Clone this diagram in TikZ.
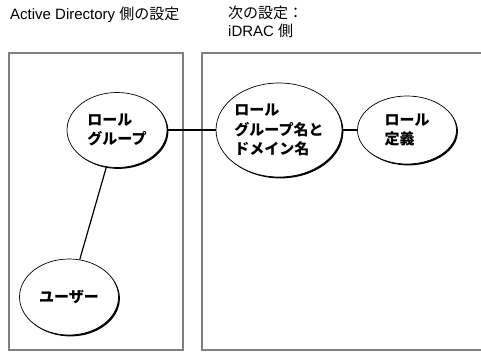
\documentclass[tikz,border=0pt]{standalone}
\usepackage{fontspec}
\setmainfont{Liberation Sans}
\newfontfamily\jpfont{Noto Sans CJK JP}
\usetikzlibrary{shapes.geometric,shadows,positioning}

\begin{document}
\begin{tikzpicture}[
    x=1pt,
    y=-1pt,
    node distance=162pt,
    role/.style={
        ellipse,
        draw,
        fill=white,
        line width=0.7pt,
        inner sep=0pt,
        align=left,
        font=\jpfont\bfseries\fontsize{15}{19.5}\selectfont,
        drop shadow={shadow xshift=1.4pt, shadow yshift=-1.4pt, fill=black, opacity=1}
    },
    link/.style={
        line width=1.2pt,
        black
    },
    panel/.style={
        draw=gray,
        line width=1.2pt
    },
    heading/.style={
        font=\fontsize{15}{18}\selectfont,
        inner sep=0pt,
        align=left
    }
]

\useasboundingbox [fill=white] (0,0) rectangle (481,352);

% Panels
\draw [panel] (9,53) rectangle (183,350);
\draw [panel] (481,53) -| (202,350) -- (481,350);

% Headings
\node [heading, anchor=base west] (adhead) at (10,20) {Active Directory {\jpfont 側の設定}};
\node [heading, anchor=north west] (idhead) at (228,6) {{\jpfont 次の設定：}\\iDRAC {\jpfont 側}};

% Roles
\node [role, minimum width=100pt, minimum height=75pt] (grp) at (117,130) {ロール\\グループ};
\node [role, right of=grp, minimum width=122pt, minimum height=94pt] (grpdom) {ロール\\グループ名と\\ドメイン名};
\node [role, right of=grpdom, node distance=128pt, minimum width=99pt, minimum height=68pt] (def) {ロール\\定義};
\node [role, minimum width=99pt, minimum height=76pt] (usr) at (69,297) {ユーザー};

% Links
\draw [link] (grp) -- (grpdom);
\draw [link] (grpdom) -- (def);
\draw [link] (grp) -- (usr);

\end{tikzpicture}
\end{document}
